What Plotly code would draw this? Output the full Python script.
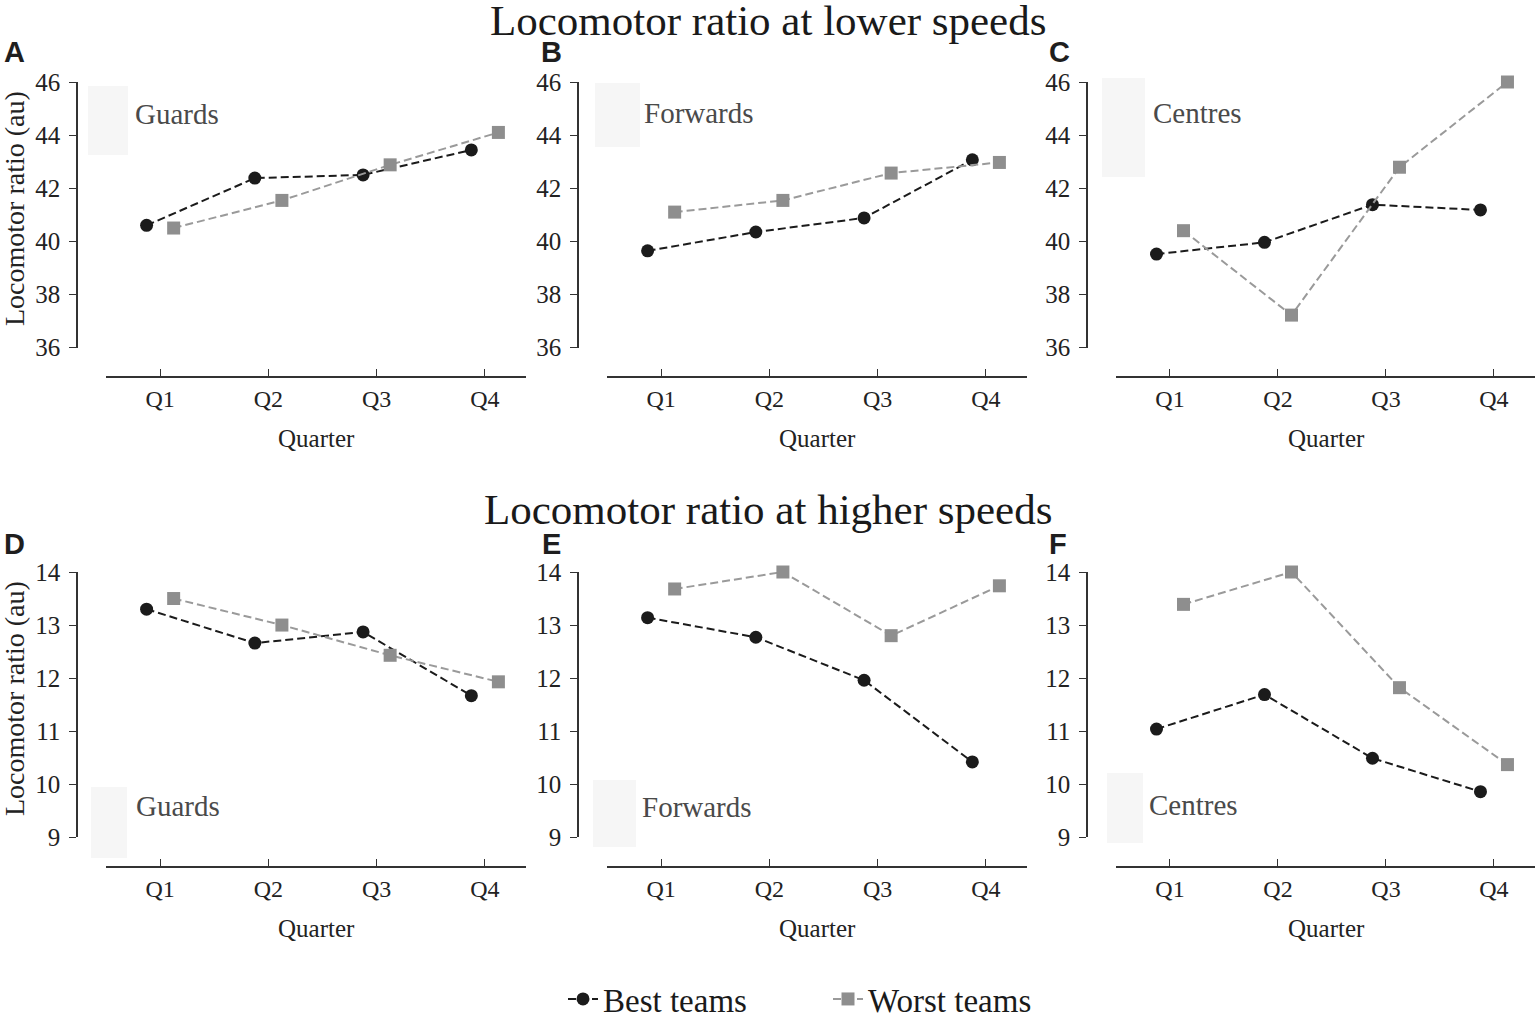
import plotly.graph_objects as go

W, H = 1535, 1017

quarters = ["Q1", "Q2", "Q3", "Q4"]
positions = ["Guards", "Forwards", "Centres"]
panel_letters = ["A", "B", "C", "D", "E", "F"]
titles = ["Locomotor ratio at lower speeds", "Locomotor ratio at higher speeds"]

# lower speeds (panels A-C)
best_low_guards = [40.6, 42.38, 42.5, 43.44]
worst_low_guards = [40.5, 41.54, 42.88, 44.1]
best_low_forwards = [39.64, 40.35, 40.88, 43.07]
worst_low_forwards = [41.1, 41.54, 42.57, 42.97]
best_low_centres = [39.52, 39.96, 41.38, 41.18]
worst_low_centres = [40.4, 37.22, 42.79, 46.0]

# higher speeds (panels D-F)
best_high_guards = [13.30, 12.66, 12.87, 11.67]
worst_high_guards = [13.5, 13.0, 12.43, 11.93]
best_high_forwards = [13.14, 12.77, 11.96, 10.42]
worst_high_forwards = [13.68, 14.0, 12.8, 13.74]
best_high_centres = [11.04, 11.69, 10.49, 9.86]
worst_high_centres = [13.39, 14.0, 11.82, 10.37]

low_ticks = [36, 38, 40, 42, 44, 46]
high_ticks = [9, 10, 11, 12, 13, 14]

best = [best_low_guards, best_low_forwards, best_low_centres,
        best_high_guards, best_high_forwards, best_high_centres]
worst = [worst_low_guards, worst_low_forwards, worst_low_centres,
         worst_high_guards, worst_high_forwards, worst_high_centres]

SERIF = "Liberation Serif"
BEST_C = "#1b1b1b"
WORST_C = "#8e8e8e"
WORST_LINE = "#9a9a9a"
AXIS_C = "#333333"

# pixel geometry
col_x0 = [106, 607, 1116]      # x-axis line start
col_yaxis = [77, 578, 1087]    # y-axis line x
row_top = [82, 572]            # top tick y
row_bot = [347.5, 837.3]       # bottom tick y
row_xline = [377, 867]         # x-axis line y
xw = 420
off = 0.125


def px(x):
    return x / W


def py(y):
    return 1 - y / H


fig = go.Figure()
layout = {}
annotations = []
shapes = []

box_px = [(88, 86, 128, 155), (595, 83, 640, 147), (1102, 78, 1145, 177),
          (91, 787, 127, 858), (593, 780, 636, 847), (1107, 773, 1143, 843)]
label_px = [(133, 114), (642, 113), (1151, 113),
            (134, 806), (640, 807), (1147, 805)]
letter_px = [(15, 52), (551, 52), (1059, 52), (15, 544), (551, 544), (1058, 544)]

for i in range(6):
    r, c = divmod(i, 3)
    n = i + 1
    xa = "xaxis" if n == 1 else f"xaxis{n}"
    ya = "yaxis" if n == 1 else f"yaxis{n}"
    xr = "x" if n == 1 else f"x{n}"
    yr = "y" if n == 1 else f"y{n}"
    ticks = low_ticks if r == 0 else high_ticks

    layout[xa] = dict(
        domain=[px(col_x0[c]), min(1.0, px(col_x0[c] + xw))],
        range=[0.5, 4.38], anchor="free", position=py(row_xline[r]),
        tickvals=[1, 2, 3, 4], ticktext=quarters,
        ticks="inside", ticklen=7, tickcolor=AXIS_C, tickwidth=1.3,
        showline=True, linecolor=AXIS_C, linewidth=1.5,
        showgrid=False, zeroline=False,
        tickfont=dict(family=SERIF, size=24, color="#222222"),
        ticklabelstandoff=0,
    )
    layout[ya] = dict(
        domain=[py(row_bot[r]), py(row_top[r])],
        range=[ticks[0], ticks[-1]], anchor="free", position=px(col_yaxis[c]),
        tickvals=ticks, ticks="outside", ticklen=7, tickcolor=AXIS_C,
        tickwidth=1.3, showline=True, linecolor=AXIS_C, linewidth=1.5,
        showgrid=False, zeroline=False,
        tickfont=dict(family=SERIF, size=25, color="#222222"),
        ticklabelstandoff=4,
    )

    xs = [q + 1 for q in range(len(quarters))]
    fig.add_trace(go.Scatter(
        x=[x - off for x in xs], y=best[i], xaxis=xr, yaxis=yr,
        mode="lines+markers", name="Best teams", legendgroup="best",
        showlegend=(i == 0), cliponaxis=False,
        line=dict(color=BEST_C, width=2, dash="8px,4px"),
        marker=dict(symbol="circle", size=13, color=BEST_C),
    ))
    fig.add_trace(go.Scatter(
        x=[x + off for x in xs], y=worst[i], xaxis=xr, yaxis=yr,
        mode="lines+markers", name="Worst teams", legendgroup="worst",
        showlegend=(i == 0), cliponaxis=False,
        line=dict(color=WORST_LINE, width=2, dash="8px,4px"),
        marker=dict(symbol="square", size=13, color=WORST_C),
    ))

    # faint box behind the position label
    bx0, by0, bx1, by1 = box_px[i]
    shapes.append(dict(type="rect", xref="paper", yref="paper",
                       x0=px(bx0), x1=px(bx1), y0=py(by1), y1=py(by0),
                       fillcolor="#f6f6f6", line=dict(width=0), layer="below"))

    lx, ly = label_px[i]
    annotations.append(dict(text=positions[c], xref="paper", yref="paper",
                            x=px(lx), y=py(ly), xanchor="left", yanchor="middle",
                            showarrow=False,
                            font=dict(family=SERIF, size=29, color="#4a4a4a")))

    tx, ty = letter_px[i]
    annotations.append(dict(text="<b>" + panel_letters[i] + "</b>", xref="paper",
                            yref="paper", x=px(tx), y=py(ty), xanchor="center",
                            yanchor="middle", showarrow=False,
                            font=dict(family="Liberation Sans", size=29,
                                      color="#1e1e1e")))

    annotations.append(dict(text="Quarter", xref="paper", yref="paper",
                            x=px(col_x0[c] + xw / 2), y=py(row_xline[r] + 61),
                            xanchor="center", yanchor="middle", showarrow=False,
                            font=dict(family=SERIF, size=25, color="#222222")))

# y-axis titles
for r, yc in enumerate([209, 699]):
    annotations.append(dict(text="Locomotor ratio (au)", xref="paper", yref="paper",
                            x=px(14), y=py(yc), xanchor="center", yanchor="middle",
                            textangle=-90, showarrow=False,
                            font=dict(family=SERIF, size=28, color="#222222")))

# row titles
for r, yc in enumerate([21, 509]):
    annotations.append(dict(text=titles[r], xref="paper", yref="paper",
                            x=px(768), y=py(yc), xanchor="center", yanchor="middle",
                            showarrow=False,
                            font=dict(family=SERIF, size=43, color="#1a1a1a")))

fig.update_layout(
    width=W, height=H,
    margin=dict(l=0, r=0, t=0, b=0, autoexpand=False),
    paper_bgcolor="white", plot_bgcolor="white",
    annotations=annotations, shapes=shapes,
    legend=dict(orientation="h", x=px(563), y=py(999), xanchor="left",
                yanchor="middle", entrywidth=220,
                font=dict(family=SERIF, size=33, color="#1a1a1a"),
                bgcolor="rgba(0,0,0,0)"),
    **layout,
)

fig.write_html("out.html", config={"displayModeBar": False},
               post_script="document.body.style.margin='0px';")
